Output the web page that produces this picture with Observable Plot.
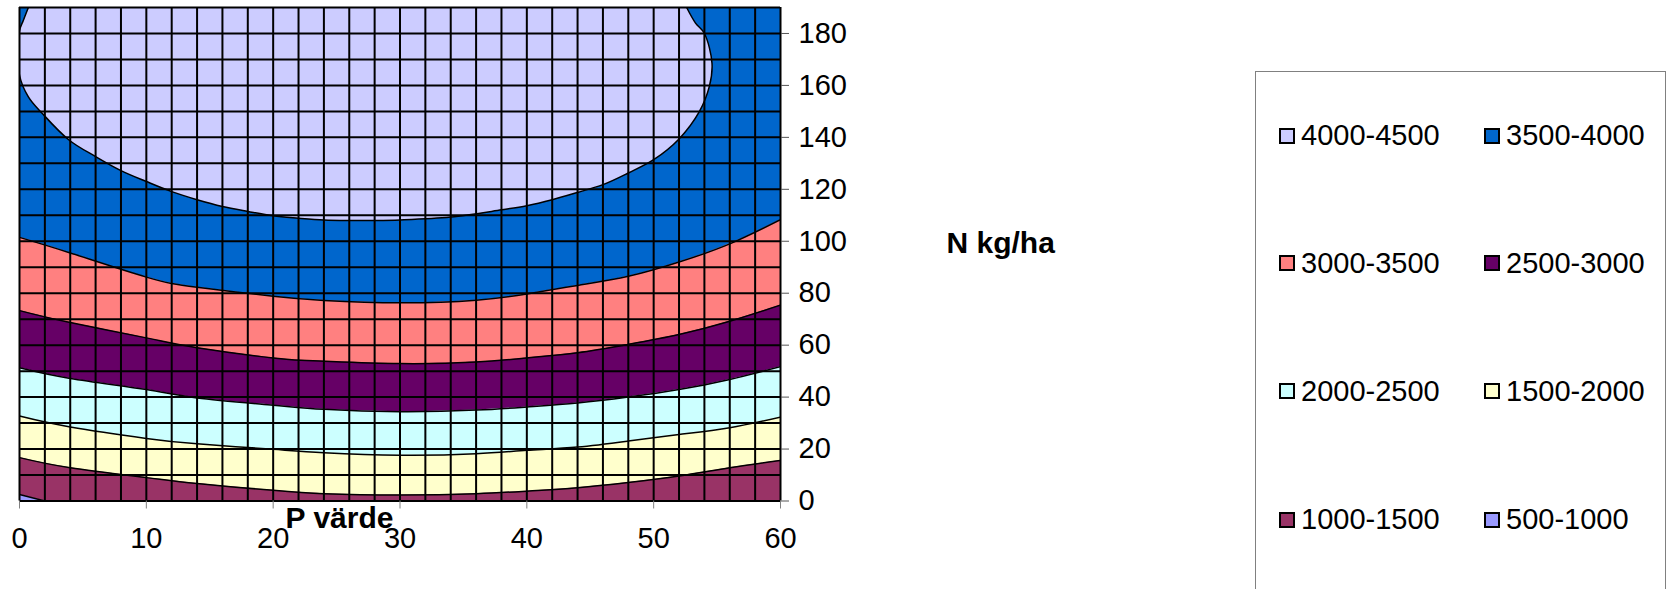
<!DOCTYPE html>
<html>
<head>
<meta charset="utf-8">
<script src="https://cdn.jsdelivr.net/npm/d3@7"></script>
<script src="https://cdn.jsdelivr.net/npm/@observablehq/plot@0.6"></script>
<style>
  body { margin: 0; background: #fff; }
  #wrap { position: relative; width: 1670px; height: 589px; overflow: hidden; font-family: "Liberation Sans", Arial, sans-serif; }
  #legend { position: absolute; left: 1255px; top: 71px; width: 411px; height: 560px; border: 1px solid #808080; box-sizing: border-box; background: #fff; }
  .item { position: absolute; display: flex; align-items: center; font-size: 29px; line-height: 29px; color: #000; white-space: nowrap; }
  .sw { width: 12px; height: 12px; border: 2px solid #000; margin-right: 6px; flex: none; }
</style>
</head>
<body>
<div id="wrap">
  <div id="chart"></div>
  <div id="legend"></div>
</div>
<script>
// Yield classes (kg/ha) and their fill colours
const levels = ["500-1000", "1000-1500", "1500-2000", "2000-2500", "2500-3000", "3000-3500", "3500-4000", "4000-4500"];
const levelColors = ["#9999FF", "#993366", "#FFFFCC", "#CCFFFF", "#660066", "#FF8080", "#0066CC", "#CCCCFF"];

// Legend reading order (two columns)
const legendOrder = ["4000-4500", "3500-4000", "3000-3500", "2500-3000", "2000-2500", "1500-2000", "1000-1500", "500-1000"];

// Contour boundaries: N kg/ha at each P value where the yield crosses the class limit
const pValues = [0, 4, 10, 14, 20, 24, 30, 36, 40, 44, 48, 52, 56, 60];
const n1500 = [16.7, 12.8, 9.0, 6.7, 4.1, 2.8, 2.3, 2.8, 3.8, 5.1, 7.1, 9.6, 12.8, 15.6];
const n2000 = [32.7, 28.5, 24.1, 22.0, 19.9, 18.6, 17.6, 18.2, 19.5, 20.8, 23.1, 25.6, 28.2, 32.3];
const n2500 = [51.3, 47.2, 42.9, 39.7, 36.9, 35.3, 34.4, 35.0, 36.2, 37.7, 40.0, 42.9, 46.8, 51.7];
const n3000 = [73.3, 68.7, 62.8, 59.0, 55.1, 53.8, 52.9, 53.5, 55.1, 57.1, 60.3, 64.1, 69.2, 75.4];
const n3500 = [101.5, 95.5, 86.2, 82.3, 78.8, 77.2, 76.3, 77.3, 79.7, 83.0, 86.5, 92.0, 99.0, 108.3];

// 1000 limit: small corner at P = 0, N = 0
const p1000 = [0, 2];
const n1000 = [2.5, 0];

// 4000 limit: closed contour traced from the top-left corner round to the top edge
const p4000 = [0.7, 0.3, 0, 0, 0.7, 1.8, 3.9, 6, 8, 10, 12, 14, 16, 18, 20, 22, 24, 26, 28, 30, 34, 38, 40, 42, 44, 46, 48, 50, 52, 53.6, 54.4, 54.6, 54, 53.3, 52.6];
const n4000 = [190, 185, 181, 164, 155.6, 149.2, 139, 132.6, 127.2, 123, 119.1, 116, 113.4, 111.5, 109.8, 108.9, 108.2, 108, 108, 108.2, 109.3, 112.1, 113.7, 116, 118.8, 121.8, 126.3, 131.4, 139.4, 149.9, 159.8, 168.5, 180, 184, 190];

// Axis ticks
const xTicks = [0, 10, 20, 30, 40, 50, 60];
const yTicks = [0, 20, 40, 60, 80, 100, 120, 140, 160, 180];
const nMax = 190;

const colorOf = Object.fromEntries(levels.map((l, i) => [l, levelColors[i]]));

const rows = pValues.map((p, i) => ({p, b1500: n1500[i], b2000: n2000[i], b2500: n2500[i], b3000: n3000[i], b3500: n3500[i]}));
const corner = p1000.map((p, i) => ({p, n: n1000[i]}));
const crown = p4000.map((p, i) => ({p, n: n4000[i]}));

// Each class is painted from its lower limit up to the top, lowest first
const bands = [
  ["1000-1500", null],
  ["1500-2000", "b1500"],
  ["2000-2500", "b2000"],
  ["2500-3000", "b2500"],
  ["3000-3500", "b3000"],
  ["3500-4000", "b3500"]
];
const limits = ["b1500", "b2000", "b2500", "b3000", "b3500"];

const chart = Plot.plot({
  width: 1670,
  height: 589,
  marginLeft: 19,
  marginRight: 890,
  marginTop: 7,
  marginBottom: 88.5,
  x: {domain: [0, 60]},
  y: {domain: [0, nMax]},
  style: {fontFamily: "'Liberation Sans', Arial, sans-serif", fontSize: "29px", color: "#000", background: "#fff", overflow: "visible"},
  marks: [
    ...bands.map(([label, key]) => Plot.areaY(rows, {
      x: "p", y1: key ? key : 0, y2: nMax, fill: colorOf[label], curve: "natural", clip: true
    })),
    Plot.areaY(corner, {x: "p", y1: 0, y2: "n", fill: colorOf["500-1000"], clip: true}),
    Plot.line(crown, {x: "p", y: "n", fill: colorOf["4000-4500"], stroke: "#000", strokeWidth: 1.5, curve: "catmull-rom", clip: true}),
    ...limits.map(key => Plot.line(rows, {x: "p", y: key, stroke: "#000", strokeWidth: 1.5, curve: "natural", clip: true})),
    Plot.line(corner, {x: "p", y: "n", stroke: "#000", strokeWidth: 1.5, clip: true}),
    Plot.frame({stroke: "#808080"}),
    Plot.ruleX(d3.range(0, 61, 2), {stroke: "#000", strokeWidth: 2}),
    Plot.ruleY(d3.range(0, nMax + 1, 10), {stroke: "#000", strokeWidth: 2}),
    Plot.axisX(xTicks, {tickSize: 8, tickPadding: 18, stroke: "#808080", label: null}),
    Plot.axisY(yTicks, {anchor: "right", tickSize: 8, tickPadding: 10, stroke: "#555", label: null}),
    Plot.text(["P värde"], {frameAnchor: "bottom", text: d => d, dx: -60.5, dy: 26.5, fontWeight: "bold", fontSize: 30, fill: "#000"}),
    Plot.text(["N kg/ha"], {frameAnchor: "right", text: d => d, dx: 166, dy: -11, textAnchor: "start", fontWeight: "bold", fontSize: 30, fill: "#000"})
  ]
});
document.getElementById("chart").appendChild(chart);

// Legend: two columns, four rows
const legend = document.getElementById("legend");
const colLeft = [23, 228];
const rowTop = [49, 176.5, 304.5, 433];
legendOrder.forEach((label, i) => {
  const item = document.createElement("div");
  item.className = "item";
  item.style.left = colLeft[i % 2] + "px";
  item.style.top = rowTop[Math.floor(i / 2)] + "px";
  const sw = document.createElement("span");
  sw.className = "sw";
  sw.style.background = colorOf[label];
  const tx = document.createElement("span");
  tx.textContent = label;
  item.appendChild(sw);
  item.appendChild(tx);
  legend.appendChild(item);
});
</script>
</body>
</html>
